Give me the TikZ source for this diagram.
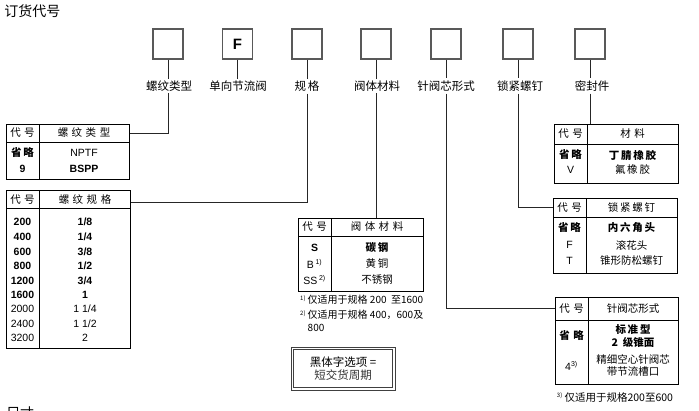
\documentclass[tikz,border=0pt]{standalone}
\usepackage{fontspec}
\setmainfont{Liberation Sans}
\newfontfamily\cjk{Noto Sans CJK SC}
\newcommand\zgap{\hspace{3.5pt}}
\begin{document}
\begin{tikzpicture}[x=1pt,y=-1pt,
  cbox/.style={draw=black!65, line width=1.2pt, minimum size=30pt, inner sep=0pt},
  lab/.style={font=\cjk\fontsize{11.5}{13}\selectfont, inner sep=2pt},
  conn/.style={draw=black!85, line width=0.9pt},
  tframe/.style={draw=black, line width=1.1pt, inner sep=0pt, anchor=north west},
  tline/.style={draw=black, line width=1pt},
  tx/.style={font=\fontsize{10.5}{12}\selectfont, inner sep=0pt},
  btx/.style={font=\bfseries\fontsize{10.5}{12}\selectfont, inner sep=0pt},
  ctx/.style={font=\cjk\fontsize{10.5}{12}\selectfont, inner sep=0pt},
  bctx/.style={font=\cjk\bfseries\fontsize{10.5}{12}\selectfont, inner sep=0pt},
  fn/.style={font=\cjk\fontsize{10}{12}\selectfont, inner sep=0pt, anchor=west}
]
\useasboundingbox (0,0) rectangle (699,410);

% title
\node[font=\cjk\fontsize{14}{16}\selectfont, inner sep=0pt] (title) at (32.5,11) {订货代号};
\node[font=\cjk\fontsize{14}{16}\selectfont, inner sep=0pt] (dims) at (20,413) {尺寸};

% top boxes
\node[cbox] (b1) at (168,44) {};
\node[cbox, font=\bfseries\fontsize{15}{17}\selectfont] (b2) at (237.5,44) {F};
\node[cbox] (b3) at (307,44) {};
\node[cbox] (b4) at (376,44) {};
\node[cbox] (b5) at (446,44) {};
\node[cbox] (b6) at (518,44) {};
\node[cbox] (b7) at (590,44) {};

% labels
\node[lab] (l1) at (169,86) {螺纹类型};
\node[lab] (l2) at (238,86) {单向节流阀};
\node[lab] (l3) at (307,86) {规\,格};
\node[lab] (l4) at (377,86) {阀体材料};
\node[lab] (l5) at (446,86) {针阀芯形式};
\node[lab] (l6) at (520,86) {锁紧螺钉};
\node[lab] (l7) at (592,86) {密封件};

\draw[conn] (b1.south) -- (b1.south |- l1.north);
\draw[conn] (b2.south) -- (b2.south |- l2.north);
\draw[conn] (b3.south) -- (b3.south |- l3.north);
\draw[conn] (b4.south) -- (b4.south |- l4.north);
\draw[conn] (b5.south) -- (b5.south |- l5.north);
\draw[conn] (b6.south) -- (b6.south |- l6.north);
\draw[conn] (b7.south) -- (b7.south |- l7.north);

% ---------- Table 1: thread type
\node[tframe, minimum width=123pt, minimum height=55pt] (T1) at (6,124) {};
\draw[tline] ([xshift=33pt]T1.north west) -- ([xshift=33pt]T1.south west);
\draw[tline] ([yshift=-18pt]T1.north west) -- ([yshift=-18pt]T1.north east);
\node[ctx] (h1a) at (22.5,133) {代\zgap 号};
\node[ctx] (h1b) at (84,133) {螺\zgap 纹\zgap 类\zgap 型};
\node[bctx] (r1a) at (22.5,153) {省\,略};
\node[tx] (r1b) at (84,153) {NPTF};
\node[btx] (r1c) at (22.5,169) {9};
\node[btx] (r1d) at (84,169) {BSPP};
\draw[conn] (b1.south |- l1.south) |- (T1.east |- h1a);

% ---------- Table 2: thread size
\node[tframe, minimum width=124pt, minimum height=158pt] (T2) at (6,190) {};
\draw[tline] ([xshift=33pt]T2.north west) -- ([xshift=33pt]T2.south west);
\draw[tline] ([yshift=-18pt]T2.north west) -- ([yshift=-18pt]T2.north east);
\node[ctx] (h2a) at (22.5,200) {代\zgap 号};
\node[ctx] (h2b) at (85,200) {螺\zgap 纹\zgap 规\zgap 格};
\node[btx] (s1a) at (22.5,222) {200};  \node[btx] (s1b) at (85,222) {1/8};
\node[btx] (s2a) at (22.5,237) {400};  \node[btx] (s2b) at (85,237) {1/4};
\node[btx] (s3a) at (22.5,251.5) {600};  \node[btx] (s3b) at (85,251.5) {3/8};
\node[btx] (s4a) at (22.5,265.5) {800};  \node[btx] (s4b) at (85,265.5) {1/2};
\node[btx] (s5a) at (22.5,280.5) {1200}; \node[btx] (s5b) at (85,280.5) {3/4};
\node[btx] (s6a) at (22.5,294.5) {1600}; \node[btx] (s6b) at (85,294.5) {1};
\node[tx] (s7a) at (22.5,309) {2000}; \node[tx] (s7b) at (85,309) {1\ 1/4};
\node[tx] (s8a) at (22.5,323.5) {2400}; \node[tx] (s8b) at (85,323.5) {1\ 1/2};
\node[tx] (s9a) at (22.5,338) {3200}; \node[tx] (s9b) at (85,338) {2};
\coordinate (c2) at (130,202);
\draw[conn] (b3.south |- l3.south) |- (T2.east |- c2);

% ---------- Table 3: body material
\node[tframe, minimum width=125pt, minimum height=73pt] (T3) at (298,218) {};
\draw[tline] ([xshift=33pt]T3.north west) -- ([xshift=33pt]T3.south west);
\draw[tline] ([yshift=-18pt]T3.north west) -- ([yshift=-18pt]T3.north east);
\node[ctx] (h3a) at (314.5,227) {代\zgap 号};
\node[ctx] (h3b) at (377,227) {阀\zgap 体\zgap 材\zgap 料};
\node[btx] (m1a) at (314.5,248) {S};
\node[bctx] (m1b) at (377,248) {碳\,钢};
\node[tx] (m2a) at (314.5,264) {B\,\textsuperscript{\fontsize{7}{8}\selectfont 1)}};
\node[ctx] (m2b) at (377,264) {黄\,铜};
\node[tx] (m3a) at (314.5,280) {SS\,\textsuperscript{\fontsize{7}{8}\selectfont 2)}};
\node[ctx] (m3b) at (377,280) {不锈钢};
\draw[conn] (b4.south |- l4.south) -- (b4.south |- T3.north);
\node[fn] (f1) at (300,300) {\textsuperscript{\fontsize{6}{7}\selectfont 1)}\,仅适用于规格 200\ \ 至1600};
\node[fn] (f2) at (300,315) {\textsuperscript{\fontsize{6}{7}\selectfont 2)}\,仅适用于规格 400，600及};
\node[fn] (f3) at (307.5,327.5) {800};

% ---------- legend box
\node[draw=black!75, line width=1pt, minimum width=104pt, minimum height=43pt,
      inner sep=0pt] (leg) at (343,368.5) {};
\draw[black!75, line width=0.8pt] ([shift={(3pt,3pt)}]leg.south west) rectangle ([shift={(-3pt,-3pt)}]leg.north east);
\node[align=center, inner sep=0pt, font=\cjk\fontsize{11.5}{14}\selectfont] (legt) at (leg.center)
      {黑体字选项 =\\[-1pt]{\color{black!80}短交货周期}};

% ---------- Table 4: seal
\node[tframe, minimum width=124pt, minimum height=59pt] (T4) at (554,124) {};
\draw[tline] ([xshift=33pt]T4.north west) -- ([xshift=33pt]T4.south west);
\draw[tline] ([yshift=-20pt]T4.north west) -- ([yshift=-20pt]T4.north east);
\node[ctx] (h4a) at (570.5,134) {代\zgap 号};
\node[ctx] (h4b) at (632.5,134) {材\zgap 料};
\node[bctx] (e1a) at (570.5,155) {省\,略};
\node[bctx] (e1b) at (632.5,155) {丁\,腈\,橡\,胶};
\node[tx] (e2a) at (570.5,170) {V};
\node[ctx] (e2b) at (632.5,170) {氟\,橡\,胶};
\draw[conn] (b7.south |- l7.south) -- (b7.south |- T4.north);

% ---------- Table 5: locking screw
\node[tframe, minimum width=124pt, minimum height=75pt] (T5) at (553,198) {};
\draw[tline] ([xshift=33pt]T5.north west) -- ([xshift=33pt]T5.south west);
\draw[tline] ([yshift=-19pt]T5.north west) -- ([yshift=-19pt]T5.north east);
\node[ctx] (h5a) at (569.5,207.5) {代\zgap 号};
\node[ctx] (h5b) at (631.5,207.5) {锁\,紧\,螺\,钉};
\node[bctx] (k1a) at (569.5,228) {省\,略};
\node[bctx] (k1b) at (631.5,228) {内\,六\,角\,头};
\node[tx] (k2a) at (569.5,245) {F};
\node[ctx] (k2b) at (631.5,245) {滚花头};
\node[tx] (k3a) at (569.5,261) {T};
\node[ctx] (k3b) at (631.5,261) {锥形防松螺钉};
\draw[conn] (b6.south |- l6.south) |- (T5.west |- h5a);

% ---------- Table 6: needle type
\node[tframe, minimum width=123pt, minimum height=87pt] (T6) at (555,297) {};
\draw[tline] ([xshift=33pt]T6.north west) -- ([xshift=33pt]T6.south west);
\draw[tline] ([yshift=-23pt]T6.north west) -- ([yshift=-23pt]T6.north east);
\node[ctx] (h6a) at (571.5,308.5) {代\zgap 号};
\node[ctx] (h6b) at (633,308.5) {针阀芯形式};
\node[bctx] (n1a) at (571.5,336) {省\zgap 略};
\node[bctx] (n1b) at (633,330) {标\,准\,型};
\node[bctx] (n1c) at (633,342.5) {2\ \ 级锥面};
\node[tx] (n2a) at (571.5,366) {4\textsuperscript{\fontsize{7}{8}\selectfont 3)}};
\node[ctx, font=\cjk\fontsize{10.5}{12}\selectfont] (n2b) at (633,359.5) {精细空心针阀芯};
\node[ctx, font=\cjk\fontsize{10.5}{12}\selectfont] (n2c) at (633,371.5) {带节流槽口};
\draw[conn] (b5.south |- l5.south) |- (T6.west |- h6a);
\node[fn, anchor=center, font=\cjk\fontsize{10.5}{12}\selectfont] (f4) at (615,397) {\textsuperscript{\fontsize{6}{7}\selectfont 3)}\,仅适用于规格200至600};

\end{tikzpicture}
\end{document}
